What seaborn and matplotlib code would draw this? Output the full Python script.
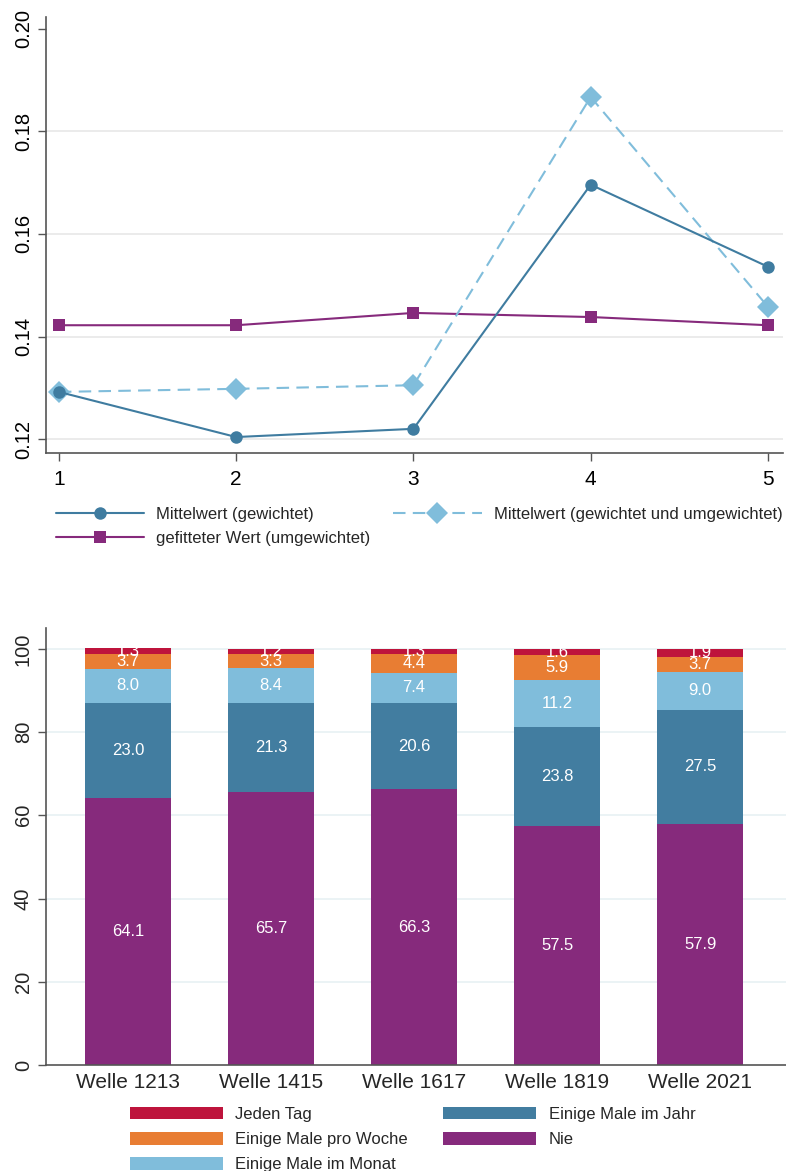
import pandas as pd
import matplotlib
matplotlib.use("Agg")
import matplotlib.pyplot as plt
import seaborn as sns

# --- data: line chart ---
zeitpunkte = [1, 2, 3, 4, 5]
mittel_gew = [0.1292, 0.1204, 0.1220, 0.1696, 0.1536]
mittel_gew_umgew = [0.1292, 0.1298, 0.1305, 0.1867, 0.1458]
gefittet = [0.1422, 0.1422, 0.1446, 0.1438, 0.1422]

# --- data: stacked bars ---
wellen = ["Welle 1213", "Welle 1415", "Welle 1617", "Welle 1819", "Welle 2021"]
nie = [64.1, 65.7, 66.3, 57.5, 57.9]
jahr = [23.0, 21.3, 20.6, 23.8, 27.5]
monat = [8.0, 8.4, 7.4, 11.2, 9.0]
woche = [3.7, 3.3, 4.4, 5.9, 3.7]
tag = [1.3, 1.2, 1.3, 1.6, 1.9]

C_STEEL = "#3f7ca0"
C_LIGHT = "#80bddb"
C_PURPLE = "#862a7c"
C_ORANGE = "#e87d33"
C_RED = "#be143c"
SPINE = "#555555"

sns.set_style("white")
plt.rcParams["font.family"] = ["Liberation Sans", "DejaVu Sans"]

fig = plt.figure(figsize=(7.86, 11.71), dpi=100)

# ---------------- top: line chart ----------------
ax1 = fig.add_axes([0.0585, 0.6132, 0.9377, 0.3723])
df_line = pd.DataFrame({"x": zeitpunkte, "a": mittel_gew, "b": mittel_gew_umgew, "c": gefittet})

sns.lineplot(data=df_line, x="x", y="c", ax=ax1, color=C_PURPLE, lw=1.5, marker="s",
             markersize=9, markeredgewidth=0, label="gefitteter Wert (umgewichtet)", zorder=3)
sns.lineplot(data=df_line, x="x", y="b", ax=ax1, color=C_LIGHT, lw=1.5, marker="D",
             markersize=11, markeredgewidth=0, dashes=(6, 3.5),
             label="Mittelwert (gewichtet und umgewichtet)", zorder=4)
sns.lineplot(data=df_line, x="x", y="a", ax=ax1, color=C_STEEL, lw=1.5, marker="o",
             markersize=9, markeredgewidth=0, label="Mittelwert (gewichtet)", zorder=5)

ax1.set_xlim(0.927, 5.085)
ax1.set_ylim(0.1173, 0.2023)
ax1.set_xticks(zeitpunkte)
ax1.set_yticks([0.12, 0.14, 0.16, 0.18, 0.20])
ax1.set_yticklabels(["0.12", "0.14", "0.16", "0.18", "0.20"], rotation=90, va="center")
ax1.set_xlabel("")
ax1.set_ylabel("")
for y in [0.12, 0.14, 0.16, 0.18]:
    ax1.axhline(y, color="#e8e8e8", lw=1.2, zorder=0)
sns.despine(ax=ax1)
for s in ["left", "bottom"]:
    ax1.spines[s].set_color(SPINE)
    ax1.spines[s].set_linewidth(1.2)
ax1.tick_params(axis="both", direction="out", length=6, width=1.0, color=SPINE,
                labelsize=14.5, labelcolor="black", left=True, bottom=True)
ax1.tick_params(axis="x", labelsize=15, pad=6)

handles, labels = ax1.get_legend_handles_labels()
# first column: Mittelwert (gewichtet), gefitteter Wert; second column: gewichtet und umgewichtet
leg_h = [handles[2], handles[0], handles[1]]
leg_l = [labels[2], labels[0], labels[1]]
ax1.legend(leg_h, leg_l, ncol=2, loc="upper left", bbox_to_anchor=(0.004, -0.108),
           frameon=False, fontsize=12, handlelength=5.3, handletextpad=0.75,
           columnspacing=1.35, labelspacing=0.55, borderaxespad=0)

# ---------------- bottom: stacked bars ----------------
ax2 = fig.add_axes([0.0585, 0.0905, 0.9415, 0.3732])

segmente = [("Nie", nie, C_PURPLE), ("Einige Male im Jahr", jahr, "#427da0"),
            ("Einige Male im Monat", monat, C_LIGHT), ("Einige Male pro Woche", woche, C_ORANGE),
            ("Jeden Tag", tag, C_RED)]

df_bar = pd.DataFrame({"welle": wellen})
kum = [0.0] * len(wellen)
stufen = []
for name, werte, farbe in segmente:
    unten = kum[:]
    kum = [k + w for k, w in zip(kum, werte)]
    stufen.append((name, werte, farbe, unten, kum[:]))

# draw cumulative totals from the top down so shorter bars overdraw
for name, werte, farbe, unten, oben in reversed(stufen):
    df_bar["wert"] = oben
    sns.barplot(data=df_bar, x="welle", y="wert", ax=ax2, color=farbe, width=0.6,
                saturation=1, label=name, edgecolor="none")

for name, werte, farbe, unten, oben in stufen:
    for i, w in enumerate(werte):
        ax2.text(i, unten[i] + w / 2, f"{w:.1f}", ha="center", va="center",
                 color="white", fontsize=12, zorder=5)

ax2.set_xlim(-0.573, 4.6)
ax2.set_ylim(0, 105)
ax2.set_yticks([0, 20, 40, 60, 80, 100])
ax2.set_yticklabels(["0", "20", "40", "60", "80", "100"], rotation=90, va="center")
for y in [20, 40, 60, 80, 100]:
    ax2.axhline(y, color="#e8f1f3", lw=1.2, zorder=0)
ax2.set_axisbelow(True)
ax2.set_xlabel("")
ax2.set_ylabel("")
sns.despine(ax=ax2)
for s in ["left", "bottom"]:
    ax2.spines[s].set_color(SPINE)
    ax2.spines[s].set_linewidth(1.2)
ax2.tick_params(axis="y", direction="out", length=6, width=1.0, color=SPINE,
                labelsize=14.5, left=True)
ax2.tick_params(axis="x", length=0, labelsize=15, pad=6)

h2, l2 = ax2.get_legend_handles_labels()
lookup = dict(zip(l2, h2))
leg_order = ["Jeden Tag", "Einige Male pro Woche", "Einige Male im Monat",
             "Einige Male im Jahr", "Nie"]
ax2.legend([lookup[n] for n in leg_order], leg_order, ncol=2, loc="upper left",
           bbox_to_anchor=(0.104, -0.08), frameon=False, fontsize=12,
           handlelength=5.6, handleheight=0.8, handletextpad=0.75,
           columnspacing=2.1, labelspacing=0.6, borderaxespad=0)

fig.savefig("out.png", dpi=100)
